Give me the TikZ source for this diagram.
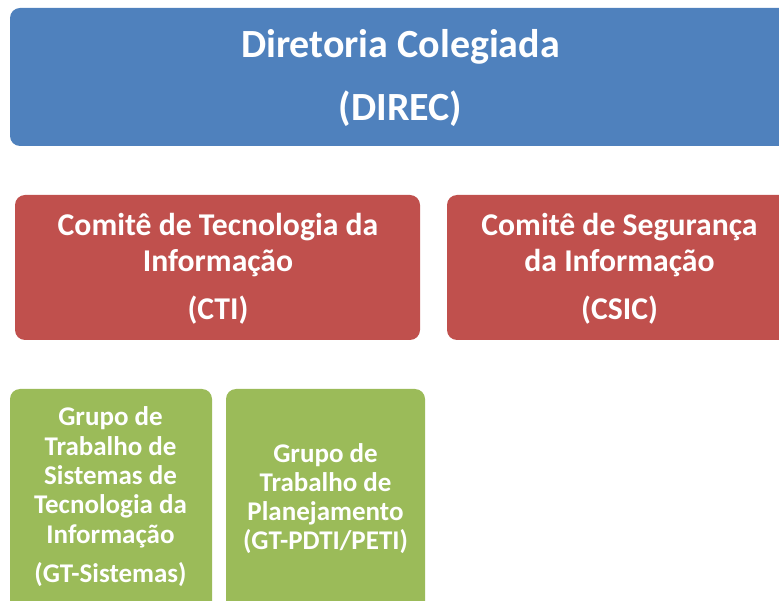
\documentclass[tikz,border=0pt]{standalone}
\usepackage{fontspec}
\setmainfont{Carlito}
\definecolor{dblue}{HTML}{4F81BD}
\definecolor{dred}{HTML}{C0504D}
\definecolor{dgreen}{HTML}{9BBB59}
\begin{document}
\begin{tikzpicture}[x=1pt,y=-1pt,
  box/.style={rounded corners=10pt, inner sep=0pt, outer sep=0pt, anchor=north west, draw=none},
  lbl/.style={text=white, align=center, anchor=base, inner sep=0pt, font=\bfseries}]
\useasboundingbox (0,0) rectangle (779,601);
\clip (0,0) rectangle (779,601);
\node[box, fill=dblue, minimum width=780pt, minimum height=138pt] (direc) at (10,8) {};
\node[box, fill=dred, minimum width=405pt, minimum height=145pt] (cti) at (15,195) {};
\node[box, fill=dred, minimum width=345pt, minimum height=145pt] (csic) at (447,195) {};
\node[box, fill=dgreen, minimum width=202pt, minimum height=230pt] (gts) at (10,389) {};
\node[box, fill=dgreen, minimum width=199pt, minimum height=230pt] (gtp) at (226,389) {};
\node[lbl, font=\bfseries\fontsize{40}{63}\selectfont] (tdirec) at (400.5,121) {Diretoria Colegiada\\(DIREC)};
\node[lbl, font=\bfseries\fontsize{31.7}{36.5}\selectfont] (tcti) at (218,320) {Comitê de Tecnologia da\\Informação\\[11.5pt](CTI)};
\node[lbl, font=\bfseries\fontsize{31.7}{36.5}\selectfont] (tcsic) at (619.5,320) {Comitê de Segurança\\da Informação\\[11.5pt](CSIC)};
\node[lbl, font=\bfseries\fontsize{27}{29.3}\selectfont] (tgts) at (110.5,582) {Grupo de\\Trabalho de\\Sistemas de\\Tecnologia da\\Informação\\[9.7pt](GT-Sistemas)};
\node[lbl, font=\bfseries\fontsize{27}{29}\selectfont] (tgtp) at (325.5,549) {Grupo de\\Trabalho de\\Planejamento\\(GT-PDTI/PETI)};
\end{tikzpicture}
\end{document}
